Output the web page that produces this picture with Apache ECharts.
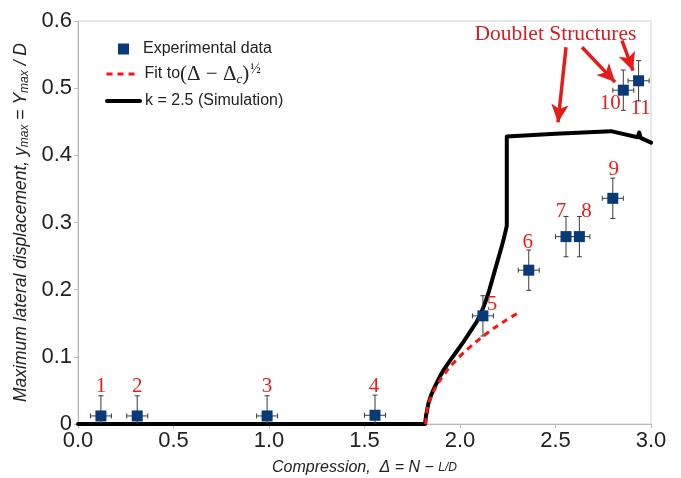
<!DOCTYPE html>
<html>
<head>
<meta charset="utf-8">
<script src="https://cdn.jsdelivr.net/npm/echarts@6/dist/echarts.min.js"></script>
<style>
html,body{margin:0;padding:0;background:#fff;}
#c{width:681px;height:478px;}
</style>
</head>
<body>
<div id="c"></div>
<script>
// ---- data ----
const expX    = [0.12, 0.31, 0.99, 1.555, 2.12, 2.36, 2.555, 2.625, 2.80, 2.855, 2.935];
const expY    = [0.012, 0.012, 0.012, 0.013, 0.161, 0.229, 0.279, 0.279, 0.336, 0.497, 0.511];
const expXErr = [0.055, 0.055, 0.055, 0.055, 0.055, 0.055, 0.055, 0.055, 0.055, 0.055, 0.055];
const expYErr = [0.03, 0.03, 0.03, 0.03, 0.03, 0.03, 0.03, 0.03, 0.03, 0.03, 0.03];
const pointLabels = ['1','2','3','4','5','6','7','8','9','10','11'];

const simX = [0, 1.817, 1.822, 1.834, 1.85, 1.869, 1.89, 1.913, 1.935, 1.957, 1.985, 2.017, 2.05, 2.087, 2.11, 2.131, 2.152, 2.173, 2.195, 2.218, 2.232, 2.245, 2.245, 2.5, 2.79, 2.93, 2.938, 2.946, 3.0];
const simY = [0, 0, 0.012, 0.03, 0.044, 0.056, 0.068, 0.08, 0.089, 0.098, 0.109, 0.122, 0.136, 0.152, 0.165, 0.180, 0.198, 0.219, 0.241, 0.264, 0.279, 0.295, 0.428, 0.432, 0.436, 0.427, 0.434, 0.426, 0.419];

const fitX = [1.82, 1.83, 1.85, 1.88, 1.92, 1.96, 2.0, 2.05, 2.1, 2.15, 2.2, 2.25, 2.314];
const fitY = [0, 0.024, 0.041, 0.058, 0.075, 0.089, 0.101, 0.114, 0.126, 0.137, 0.147, 0.156, 0.167];

const xTicks = [0, 0.5, 1.0, 1.5, 2.0, 2.5, 3.0];
const yTicks = [0, 0.1, 0.2, 0.3, 0.4, 0.5, 0.6];

const annotationText = 'Doublet Structures';
const annotationAnchor = [2.5, 0.58];
const arrowsFrom = [[2.555, 0.561], [2.639, 0.561], [2.848, 0.571]];
const arrowsTo   = [[2.513, 0.449], [2.812, 0.509], [2.906, 0.526]];

// ---- styling (label placement in pixels) ----
const labelOffsets = [[0,-29],[0,-29],[0,-29],[-1,-29],[9,-11],[-1,-28],[-5,-25],[7,-25],[1,-29],[-13,13],[2,28]];

const chart = echarts.init(document.getElementById('c'), null, {renderer:'canvas'});

const sans = 'Liberation Sans, Arial, sans-serif';
const serif = 'Liberation Serif, Times New Roman, serif';

const scatterData = expX.map((x,i) => ({
  value: [x, expY[i]],
  label: {
    show: true, formatter: pointLabels[i], position: 'inside', offset: labelOffsets[i],
    color: '#f01c1c', fontFamily: serif, fontSize: 21
  }
}));
const errData = expX.map((x,i) => [x, expY[i], expXErr[i], expYErr[i]]);

const option = {
  animation: false,
  backgroundColor: '#ffffff',
  grid: {left: 78, right: 30, top: 21, bottom: 54, show: true, borderColor: '#cfcfcf', borderWidth: 1,
         containLabel: false, outerBoundsMode: 'none'},
  xAxis: {
    type: 'value', min: 0, max: 3, interval: 0.5,
    axisLine: {show: true, lineStyle: {color: '#b8b8b8', width: 1}},
    axisTick: {show: true, length: 4, lineStyle: {color: '#b8b8b8'}},
    splitLine: {show: false},
    axisLabel: {color: '#222', fontFamily: sans, fontSize: 22, margin: 6,
      formatter: v => xTicks.includes(v) ? v.toFixed(1) : ''},
    name: '{i|Compression,  Δ = N − }{f|L/D}',
    nameLocation: 'middle', nameGap: 36,
    nameTextStyle: {
      rich: {
        i: {fontFamily: sans, fontStyle: 'italic', fontSize: 16, color: '#222'},
        f: {fontFamily: sans, fontStyle: 'italic', fontSize: 12, color: '#222'}
      }
    }
  },
  yAxis: {
    type: 'value', min: 0, max: 0.6, interval: 0.1,
    axisLine: {show: true, lineStyle: {color: '#b8b8b8', width: 1}},
    axisTick: {show: true, length: 4, lineStyle: {color: '#b8b8b8'}},
    splitLine: {show: false},
    axisLabel: {color: '#222', fontFamily: sans, fontSize: 22, margin: 6,
      formatter: v => { const t = yTicks.find(k => Math.abs(k - v) < 1e-9); return t === undefined ? '' : (t === 0 ? '0' : t.toFixed(1)); }},
    name: '{i|Maximum lateral displacement, y}{s|max}{i| = Y}{s|max}{i| / D}',
    nameLocation: 'middle', nameGap: 45, nameRotate: 90,
    nameTextStyle: {
      rich: {
        i: {fontFamily: sans, fontStyle: 'italic', fontSize: 17.5, color: '#222'},
        s: {fontFamily: sans, fontStyle: 'italic', fontSize: 12, color: '#222', verticalAlign: 'bottom', padding: [6,0,0,0]}
      }
    }
  },
  legend: [
    {left: 118, top: 41, padding: 0, itemWidth: 11, itemHeight: 11, data: [{name: 'Experimental data', icon: 'rect'}],
     formatter: n => '{p|' + n + '}',
     itemStyle: {opacity: 1},
     textStyle: {fontFamily: sans, fontSize: 16, color: '#222', rich: {p: {fontFamily: sans, fontSize: 16, color: '#222', padding: [0,0,0,9]}}}, selectedMode: false},
    {left: 105, top: 62, padding: 0, itemWidth: 33, itemHeight: 14, data: ['fit'],
     itemStyle: {opacity: 0},
     lineStyle: {width: 3, type: [6,5], color: '#ff1111'},
     formatter: () => '{a|Fit to}{b|(Δ − Δ}{c|c}{b|)}{d|½}',
     textStyle: {fontFamily: sans, fontSize: 16, color: '#222',
       rich: {
         a: {fontFamily: sans, fontSize: 16, color: '#222'},
         b: {fontFamily: serif, fontSize: 21, color: '#222'},
         c: {fontFamily: serif, fontStyle: 'italic', fontSize: 13, color: '#222', verticalAlign: 'bottom', padding: [8,0,0,0]},
         d: {fontFamily: serif, fontSize: 14, color: '#222', verticalAlign: 'top', padding: [0,0,10,1]}
       }}, selectedMode: false},
    {left: 105, top: 93, padding: 0, itemWidth: 33, itemHeight: 14, data: ['k = 2.5 (Simulation)'],
     itemStyle: {opacity: 0},
     lineStyle: {width: 4, color: '#000'},
     textStyle: {fontFamily: sans, fontSize: 16, color: '#222'}, selectedMode: false}
  ],
  series: [
    {
      name: 'k = 2.5 (Simulation)', type: 'line', z: 2,
      data: simX.map((x,i) => [x, simY[i]]),
      symbol: 'none', showSymbol: false,
      lineStyle: {color: '#000', width: 4, join: 'round', cap: 'round'},
      itemStyle: {color: '#000'}
    },
    {
      name: 'fit', type: 'line', z: 3, smooth: true,
      data: fitX.map((x,i) => [x, fitY[i]]),
      symbol: 'none', showSymbol: false,
      lineStyle: {color: '#ff1111', width: 3, type: [6,5]},
      itemStyle: {color: '#ff1111'}
    },
    {
      name: 'errors', type: 'custom', z: 4, clip: true,
      data: errData,
      renderItem: (params, api) => {
        const x = api.value(0), y = api.value(1), ex = api.value(2), ey = api.value(3);
        const c = api.coord([x, y]);
        const top = api.coord([x, y + ey]);
        const bot = api.coord([x, y - ey]);
        const lft = api.coord([x - ex, y]);
        const rgt = api.coord([x + ex, y]);
        const cap = 2.5;
        const st = {stroke: '#3a3a3a', lineWidth: 1};
        const L = (x1,y1,x2,y2) => ({type:'line', shape:{x1,y1,x2,y2}, style: st});
        return {type: 'group', children: [
          L(c[0], top[1], c[0], bot[1]),
          L(c[0]-cap, top[1], c[0]+cap, top[1]),
          L(c[0]-cap, bot[1], c[0]+cap, bot[1]),
          L(lft[0], c[1], rgt[0], c[1]),
          L(lft[0], c[1]-cap, lft[0], c[1]+cap),
          L(rgt[0], c[1]-cap, rgt[0], c[1]+cap)
        ]};
      }
    },
    {
      name: 'Experimental data', type: 'scatter', z: 5,
      symbol: 'rect', symbolSize: 11,
      itemStyle: {color: '#083a78', opacity: 1},
      data: scatterData,
      markLine: {
        silent: true, animation: false,
        symbol: ['none', 'arrow'], symbolSize: [13, 18],
        lineStyle: {color: '#e51c1c', width: 3.5, type: 'solid', opacity: 1},
        label: {show: false},
        data: arrowsFrom.map((f,i) => [{coord: f}, {coord: arrowsTo[i]}])
      },
      markPoint: {
        silent: true, animation: false,
        symbol: 'circle', symbolSize: 0,
        label: {show: true, formatter: annotationText, color: '#d41f26', fontFamily: serif, fontSize: 21.5, position: 'inside'},
        data: [{coord: annotationAnchor}]
      }
    }
  ]
};
chart.setOption(option);
</script>
</body>
</html>
